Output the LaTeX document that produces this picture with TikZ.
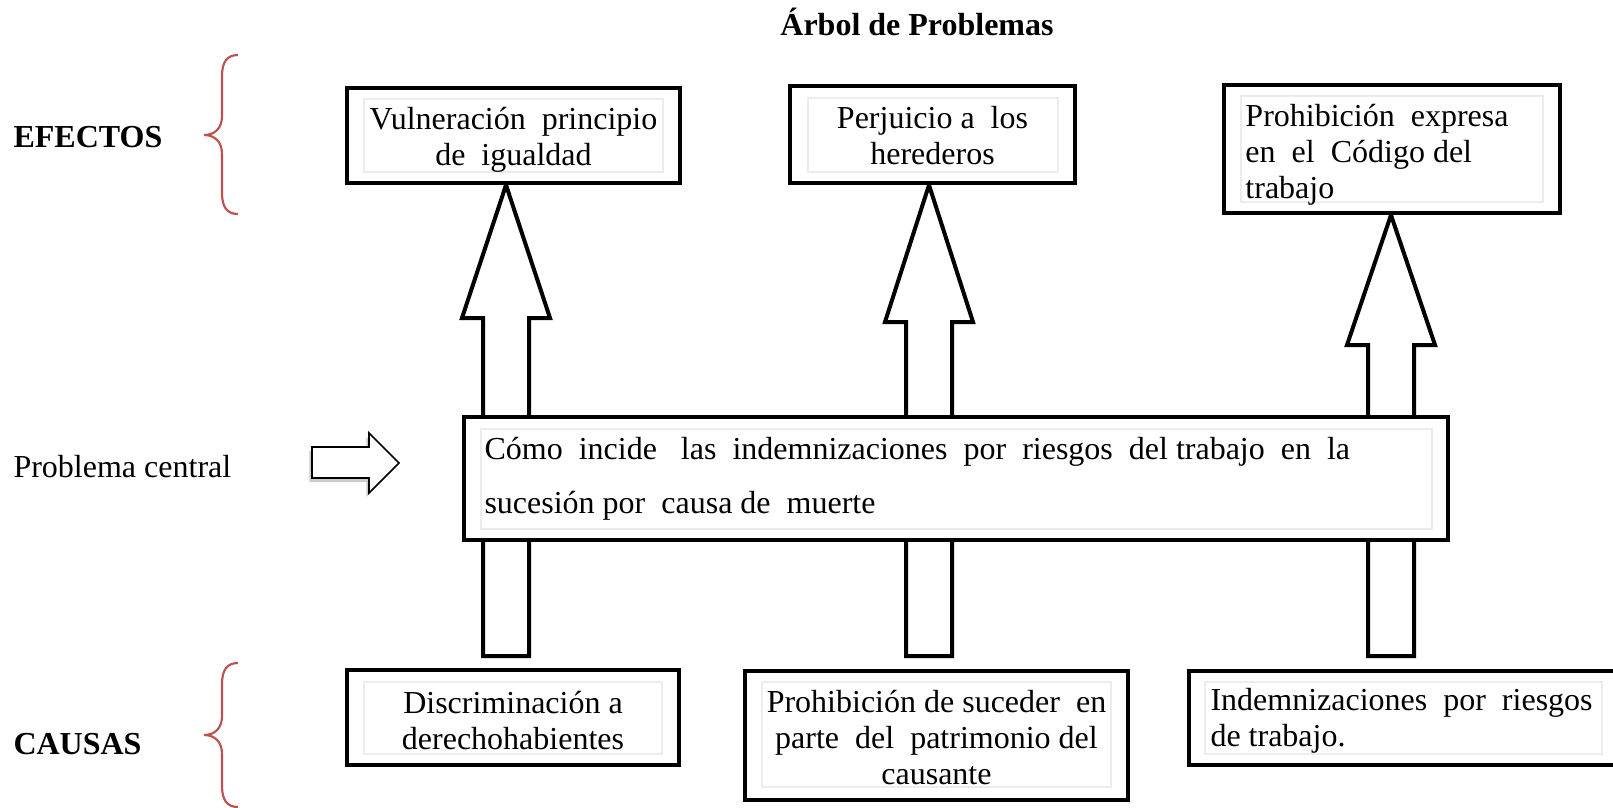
\documentclass[tikz,border=0pt]{standalone}
\usepackage{fontspec}
\setmainfont{Liberation Serif}
\usetikzlibrary{positioning,shadows}
\definecolor{bracered}{HTML}{C0504D}
\tikzset{
    caja/.style={draw,line width=1.5pt,fill=white,inner sep=0pt},
    texto/.style={inner sep=0pt},
    rotulo/.style={inner sep=0pt,anchor=base west},
    flecha/.style={draw,line width=1.5pt,fill=white,line join=miter},
    marco/.style={draw=gray!15,line width=0.5pt},
    llave/.style={draw=bracered,line width=0.8pt}
}
\begin{document}
\begin{tikzpicture}[x=0.375pt,y=-0.375pt,font=\fontsize{12}{13.5}\selectfont]
        \useasboundingbox[clip] (0,0) rectangle (1613,808);
        \foreach \x/\t/\h in {506/185/318,929/185/322,1391/215/345}
            \draw[flecha] (\x-23,656) -- (\x-23,\h) -- (\x-44,\h) -- (\x,\t) -- (\x+44,\h) -- (\x+23,\h) -- (\x+23,656) -- cycle;
        \node[texto,font=\fontsize{12}{14}\selectfont\bfseries,anchor=base] (titulo) at (917,35) {Árbol de Problemas};
        \node[rotulo,font=\fontsize{12}{14}\selectfont\bfseries] (efectos) at (13,147) {EFECTOS};
        \node[rotulo] (problema) at (13,477) {Problema central};
        \node[rotulo,font=\fontsize{12}{14}\selectfont\bfseries] (causas) at (13,754) {CAUSAS};
        \foreach \a/\m/\b in {55/135/214,663/735/807}
            \draw[llave] (238,\a) .. controls (227,\a) and (222,\a+7) .. (222,\a+21) -- (222,\m-19) .. controls (222,\m-7) and (215,\m) .. (204,\m) .. controls (215,\m) and (222,\m+7) .. (222,\m+19) -- (222,\b-21) .. controls (222,\b-7) and (227,\b) .. (238,\b);
        \draw[line width=0.6pt,fill=white,drop shadow={shadow xshift=-1pt,shadow yshift=-1.5pt,opacity=0.4}] (312,447) -- (369,447) -- (369,433) -- (399,463) -- (369,493) -- (369,478) -- (312,478) -- cycle;
        \node[caja,minimum width=124.9pt,minimum height=35.6pt] (ef1) at (513.5,135.5) {};
        \node[caja,minimum width=106.9pt,minimum height=36.4pt] (ef2) at (932.5,134.5) {};
        \node[caja,minimum width=126pt,minimum height=48pt] (ef3) at (1392,149) {};
        \node[caja,minimum width=369pt,minimum height=46.1pt] (pc) at (956,478.5) {};
        \node[caja,minimum width=124.5pt,minimum height=35.6pt] (ca1) at (513,717.5) {};
        \node[caja,minimum width=143.6pt,minimum height=48.4pt] (ca2) at (936.5,735.5) {};
        \node[caja,minimum width=191.6pt,minimum height=35.25pt] (ca3) at (1444.5,718) {};
        \foreach \l/\r/\u/\d in {364/663/99/172,808/1058/98/172,1241/1543/96/202,481/1432/429/529,364/662/682/754,762/1111/682/787,1205/1602/682/754}
            \draw[marco] (\l,\u) rectangle (\r,\d);
        \node[texto,align=center] (ef1t) at ([yshift=-1.5pt]ef1) {Vulneración~~principio\\de~~igualdad};
        \node[texto,align=center] (ef2t) at ([yshift=-0.5pt]ef2) {Perjuicio a~~los\\herederos};
        \node[texto,align=left,right=8.6pt of ef3.west,yshift=-2.3pt] (ef3t) {Prohibición~~expresa\\en~~el~~Código del\\trabajo};
        \node[texto,align=left,right=8.25pt of pc.west,font=\fontsize{12}{20.25}\selectfont] (pct) {Cómo~~incide~~~las~~indemnizaciones~~por~~riesgos~~del trabajo~~en~~la\\sucesión por~~causa de~~muerte};
        \node[texto,align=center] (ca1t) at ([yshift=-1.1pt]ca1) {Discriminación a\\derechohabientes};
        \node[texto,align=center] (ca2t) at ([yshift=-0.9pt]ca2) {Prohibición de suceder~~en\\parte~~del~~patrimonio del\\causante};
        \node[texto,align=left,right=8.6pt of ca3.west,yshift=-1.1pt] (ca3t) {Indemnizaciones~~por~~riesgos\\de trabajo.};
    \end{tikzpicture}
\end{document}
